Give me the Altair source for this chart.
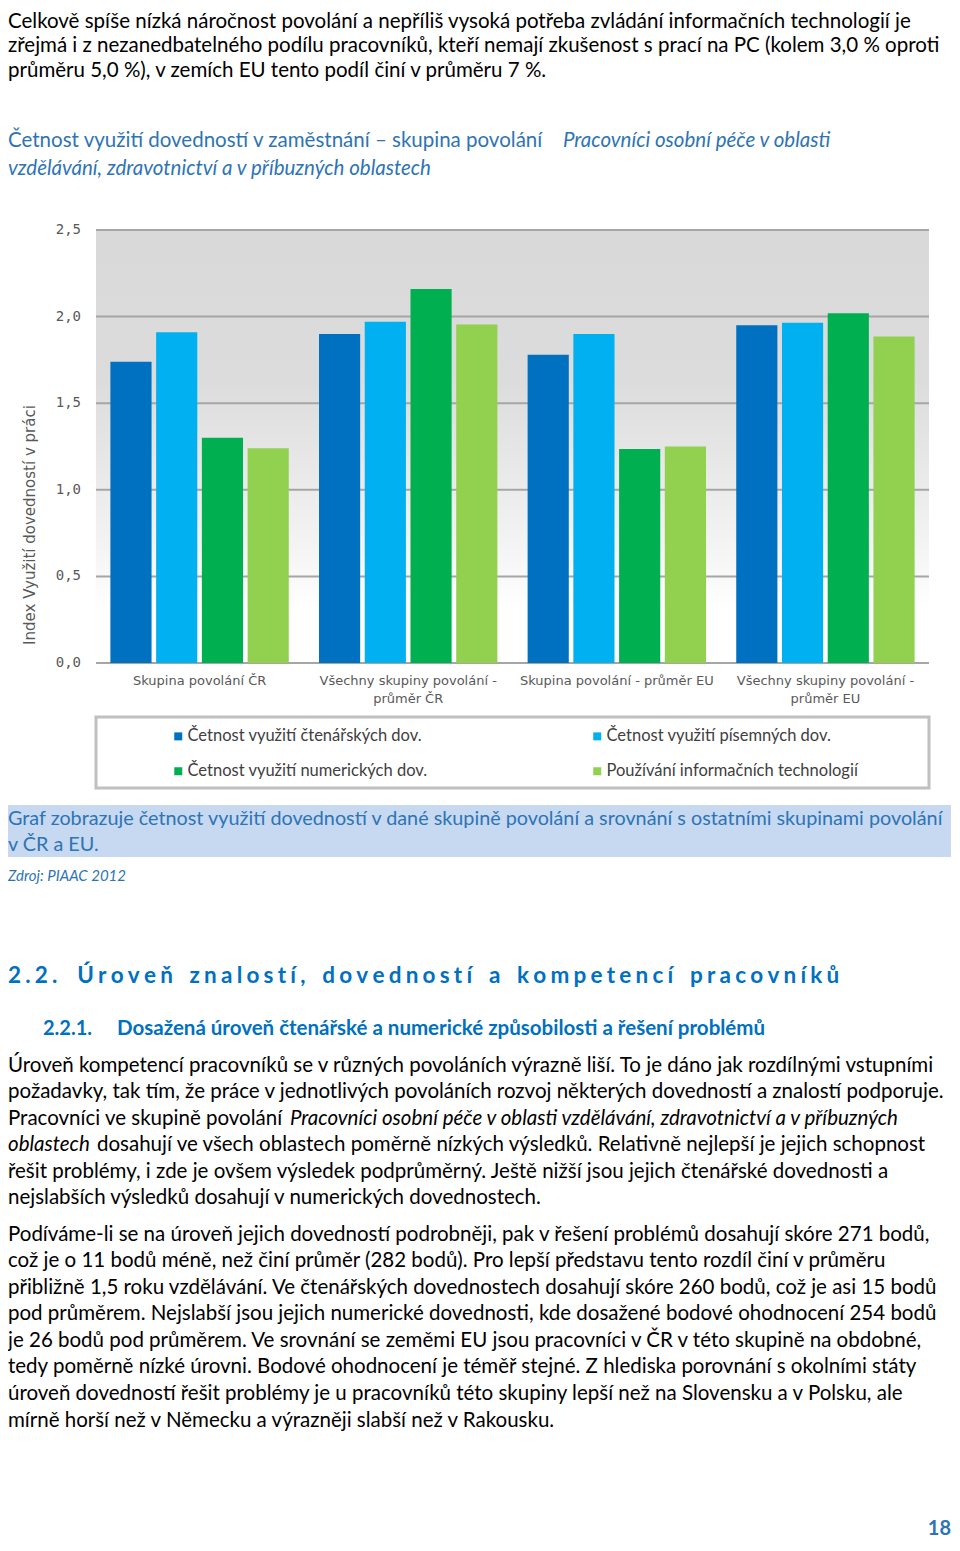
import altair as alt
import pandas as pd

# ---------------- data ----------------
groups = ["Skupina povolání ČR", "Všechny skupiny povolání - průměr ČR",
          "Skupina povolání - průměr EU", "Všechny skupiny povolání - průměr EU"]
group_labels = ["Skupina povolání ČR", "Všechny skupiny povolání -\nprůměr ČR",
                "Skupina povolání - průměr EU", "Všechny skupiny povolání -\nprůměr EU"]
series = ["Četnost využití čtenářských dov.", "Četnost využití písemných dov.",
          "Četnost využití numerických dov.", "Používání informačních technologií"]
reading = [1.74, 1.90, 1.78, 1.95]
writing = [1.91, 1.97, 1.90, 1.965]
numeracy = [1.30, 2.16, 1.235, 2.02]
ict = [1.24, 1.955, 1.25, 1.885]
y_ticks = [0.0, 0.5, 1.0, 1.5, 2.0, 2.5]
y_tick_labels = ["0,0", "0,5", "1,0", "1,5", "2,0", "2,5"]
colors = ["#0070C0", "#00B0F0", "#00B050", "#92D050"]

para1 = [
    "Celkově spíše nízká náročnost povolání a nepříliš vysoká potřeba zvládání informačních technologií je",
    "zřejmá i z nezanedbatelného podílu pracovníků, kteří nemají zkušenost s prací na PC (kolem 3,0 % oproti",
    "průměru 5,0 %), v zemích EU tento podíl činí v průměru 7 %.",
]
title_a = "Četnost využití dovedností v zaměstnání – skupina povolání"
title_b = "Pracovníci osobní péče v oblasti"
title_c = "vzdělávání, zdravotnictví a v příbuzných oblastech"
y_title = "Index Využití dovedností v práci"
caption = ["Graf zobrazuje četnost využití dovedností v dané skupině povolání a srovnání s ostatními skupinami povolání",
           "v ČR a EU."]
source = "Zdroj: PIAAC 2012"
heading_words = ["Úroveň", "znalostí,", "dovedností", "a", "kompetencí", "pracovníků"]
heading_num = "2.2."
sub_num = "2.2.1."
sub_title = "Dosažená úroveň čtenářské a numerické způsobilosti a řešení problémů"
body1 = [
    "Úroveň kompetencí pracovníků se v různých povoláních výrazně liší. To je dáno jak rozdílnými vstupními",
    "požadavky, tak tím, že práce v jednotlivých povoláních rozvoj některých dovedností a znalostí podporuje.",
]
body1_l3a = "Pracovníci ve skupině povolání"
body1_l3b = "Pracovníci osobní péče v oblasti vzdělávání, zdravotnictví a v příbuzných"
body1_l4a = "oblastech"
body1_l4b = "dosahují ve všech oblastech poměrně nízkých výsledků. Relativně nejlepší je jejich schopnost"
body1_rest = [
    "řešit problémy, i zde je ovšem výsledek podprůměrný. Ještě nižší jsou jejich čtenářské dovednosti a",
    "nejslabších výsledků dosahují v numerických dovednostech.",
]
body2 = [
    "Podíváme-li se na úroveň jejich dovedností podrobněji, pak v řešení problémů dosahují skóre 271 bodů,",
    "což je o 11 bodů méně, než činí průměr (282 bodů). Pro lepší představu tento rozdíl činí v průměru",
    "přibližně 1,5 roku vzdělávání. Ve čtenářských dovednostech dosahují skóre 260 bodů, což je asi 15 bodů",
    "pod průměrem. Nejslabší jsou jejich numerické dovednosti, kde dosažené bodové ohodnocení 254 bodů",
    "je 26 bodů pod průměrem.  Ve srovnání se zeměmi EU jsou pracovníci v ČR v této skupině na obdobné,",
    "tedy poměrně nízké úrovni. Bodové ohodnocení je téměř stejné. Z hlediska porovnání s okolními státy",
    "úroveň dovedností řešit problémy je u pracovníků této skupiny lepší než na Slovensku a v Polsku, ale",
    "mírně horší než v Německu a výrazněji slabší než v Rakousku.",
]
page_no = "18"

# ---------------- layout ----------------
W, H = 944, 1531
X0, X1 = 88, 921          # plot area left/right
YB, YT = 655, 222         # plot area bottom/top
BODY_FONT = "Lato"
BS = 20.5                 # body font size
BLUE_T = "#2E74B5"
BLUE_H = "#0070C0"

rows = []
for g, vals in zip(groups, zip(reading, writing, numeracy, ict)):
    for s, v in zip(series, vals):
        rows.append({"group": g, "series": s, "value": v})
bars_df = pd.DataFrame(rows)
ticks_df = pd.DataFrame({"v": y_ticks, "lab": y_tick_labels})
xlab_df = pd.DataFrame({"group": groups, "label": group_labels})

# legend is filled column by column: order domain so rows read
# (reading | writing) / (numeracy | ict) as in the original
legend_order = [0, 2, 1, 3]
color_domain = [series[i] for i in legend_order]
color_range = [colors[i] for i in legend_order]

xscale = alt.Scale(domain=groups, range=[X0, X1], paddingInner=0.145, paddingOuter=0.069)
yscale = alt.Scale(domain=[0, 2.5], range=[YB, YT])

one = pd.DataFrame({"a": [0]})


def txt(s, x, y, size=BS, color="#000000", font=BODY_FONT, weight="normal",
        style="normal", align="left", angle=0):
    return alt.Chart(pd.DataFrame({"t": [s]})).mark_text(
        x=x, y=y, align=align, baseline="middle", font=font, fontSize=size,
        color=color, fontWeight=weight, fontStyle=style, angle=angle
    ).encode(text="t:N")


layers = []

# plot background gradient
layers.append(
    alt.Chart(one).mark_rect(
        fill=alt.LinearGradient(
            gradient="linear", x1=0, x2=0, y1=0, y2=1,
            stops=[alt.GradientStop(color="#d9d9d9", offset=0),
                   alt.GradientStop(color="#dcdcdc", offset=0.35),
                   alt.GradientStop(color="#f3f3f3", offset=0.72),
                   alt.GradientStop(color="#ffffff", offset=0.88),
                   alt.GradientStop(color="#ffffff", offset=1)])
    ).encode(x=alt.value(X0), x2=alt.value(X1), y=alt.value(YT), y2=alt.value(YB))
)
# gridlines
layers.append(
    alt.Chart(ticks_df).mark_rule(color="#a6a6a6", strokeWidth=2).encode(
        y=alt.Y("v:Q", scale=yscale, axis=None), x=alt.value(X0), x2=alt.value(X1))
)
# bars
layers.append(
    alt.Chart(bars_df).mark_bar().encode(
        x=alt.X("group:N", scale=xscale, axis=None, sort=groups),
        xOffset=alt.XOffset("series:N", sort=series,
                            scale=alt.Scale(domain=series, paddingInner=0.1, paddingOuter=0)),
        y=alt.Y("value:Q", scale=yscale, axis=None),
        color=alt.Color("series:N",
                        scale=alt.Scale(domain=color_domain, range=color_range),
                        legend=alt.Legend(orient="none", legendX=162, legendY=720, columns=2,
                                          title=None, symbolType="square", symbolSize=64,
                                          symbolStrokeWidth=0, labelFont=BODY_FONT,
                                          labelFontSize=16.5, labelColor="#404040",
                                          labelOffset=1, columnPadding=161, rowPadding=18,
                                          labelLimit=400, padding=0)),
    )
)
# y tick labels
layers.append(
    alt.Chart(ticks_df).mark_text(align="right", baseline="middle", font="DejaVu Sans Mono",
                                  fontSize=14, color="#595959", x=73).encode(
        y=alt.Y("v:Q", scale=yscale, axis=None), text="lab:N")
)
# x category labels
layers.append(
    alt.Chart(xlab_df).mark_text(align="center", baseline="top", lineBreak="\n",
                                 font="DejaVu Sans", fontSize=13, color="#595959",
                                 lineHeight=18, y=667).encode(
        x=alt.X("group:N", scale=xscale, axis=None, bandPosition=0.5, sort=groups),
        text="label:N")
)
# y title
layers.append(txt(y_title, 22, 517, size=15, color="#595959", font="DejaVu Sans", align="center", angle=270))
# legend frame
layers.append(
    alt.Chart(one).mark_rect(fill="white", stroke="#c0c0c0", strokeWidth=3).encode(
        x=alt.value(X0), x2=alt.value(X1), y=alt.value(709), y2=alt.value(780))
)
# caption box
layers.append(
    alt.Chart(one).mark_rect(color="#C6D9F1").encode(
        x=alt.value(0), x2=alt.value(943), y=alt.value(797), y2=alt.value(849))
)

# paragraph 1
for s, y in zip(para1, [14, 38, 63]):
    layers.append(txt(s, 0, y))
# chart title
layers.append(txt(title_a, 0, 133, color=BLUE_T))
layers.append(txt(title_b, 555, 133, color=BLUE_T, style="italic"))
layers.append(txt(title_c, 0, 161, color=BLUE_T, style="italic"))
# caption
layers.append(txt(caption[0], 0, 811, size=19.8, color=BLUE_T))
layers.append(txt(caption[1], 0, 837, size=19.8, color=BLUE_T))
layers.append(txt(source, 0, 868, size=15, color=BLUE_T, style="italic"))
# heading (letter-spaced)
ls = "\u2009\u200a"
heading = (ls.join(heading_num) + "\u2003\u2009" +
           (ls + " " + ls + "\u2009").join(ls.join(w) for w in heading_words))
layers.append(txt(heading, 0, 968, size=22.5, color=BLUE_H, weight="bold"))
layers.append(txt(sub_num, 35, 1021, size=20, color=BLUE_H, weight="bold"))
layers.append(txt(sub_title, 109, 1021, size=20.5, color=BLUE_H, weight="bold"))
# body paragraph 1
layers.append(txt(body1[0], 0, 1058))
layers.append(txt(body1[1], 0, 1084))
layers.append(txt(body1_l3a, 0, 1111))
layers.append(txt(body1_l3b, 282, 1111, style="italic"))
layers.append(txt(body1_l4a, 0, 1137, style="italic"))
layers.append(txt(body1_l4b, 89, 1137))
layers.append(txt(body1_rest[0], 0, 1164))
layers.append(txt(body1_rest[1], 0, 1190))
# body paragraph 2
for s, y in zip(body2, [1227, 1253, 1280, 1306, 1333, 1359, 1386, 1413]):
    layers.append(txt(s, 0, y))
# page number
layers.append(txt(page_no, 943, 1521, size=20, color=BLUE_T, weight="bold", align="right"))

chart = alt.layer(*layers).properties(
    width=W, height=H, padding=0, autosize=alt.AutoSizeParams(type="none"),
    background="white"
).configure_view(stroke=None)

chart.save("out.html", embed_options={"renderer": "svg", "actions": False})
